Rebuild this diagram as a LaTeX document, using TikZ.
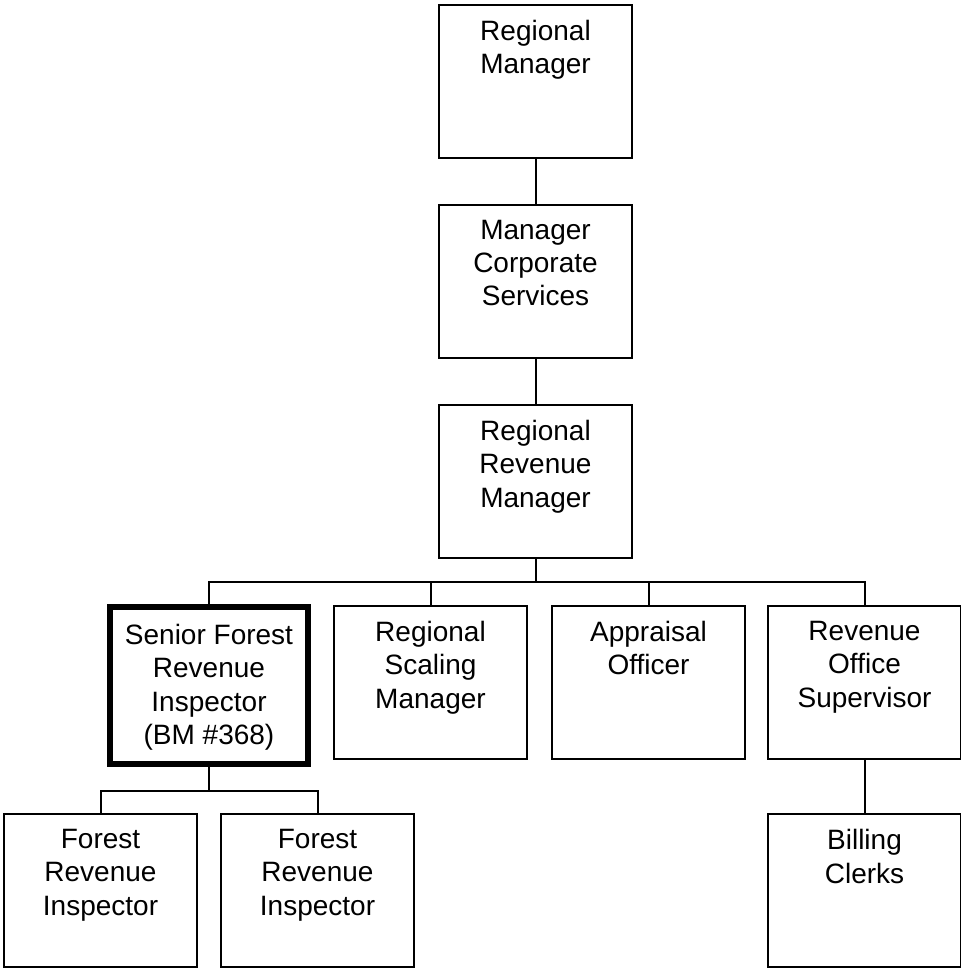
\documentclass[tikz,border=0pt]{standalone}
\usepackage{fontspec}
\setmainfont{Liberation Sans}
\usetikzlibrary{positioning, calc}

\begin{document}
\begin{tikzpicture}[x=0.5pt, y=-0.5pt,
            box/.style={rectangle, draw=black, line width=1pt, minimum width=96.5pt, minimum height=76.5pt, inner sep=0pt},
            keybox/.style={box, line width=3pt, minimum width=99pt, minimum height=78.5pt},
            txt/.style={anchor=north, align=center, inner sep=0pt, font=\fontsize{14}{16.65}\selectfont},
            link/.style={draw=black, line width=1pt}]
            \useasboundingbox (0,0) rectangle (961,969);
            % top chain
            \node[box] (rm)  at (535.5,81)    {};
            \node[box] (mcs) at (535.5,281)   {};
            \node[box] (rrm) at (535.5,481.5) {};
            % second row
            \node[keybox] (sfri) at (209,685.5)   {};
            \node[box]    (rsm)  at (430.5,682.5) {};
            \node[box]    (ao)   at (648.5,682.5) {};
            \node[box]    (ros)  at (864.5,682.5) {};
            % bottom row
            \node[box] (fri1) at (100.5,890.5) {};
            \node[box] (fri2) at (317.5,890.5) {};
            \node[box] (bc)   at (864.5,890.5) {};
            % titles
            \node[txt] (rmT)   at ([yshift=-8pt]rm.north)     {Regional\\Manager};
            \node[txt] (mcsT)  at ([yshift=-8pt]mcs.north)    {Manager\\Corporate\\Services};
            \node[txt] (rrmT)  at ([yshift=-8pt]rrm.north)    {Regional\\Revenue\\Manager};
            \node[txt] (sfriT) at ([yshift=-10pt]sfri.north)  {Senior Forest\\Revenue\\Inspector\\(BM \#368)};
            \node[txt] (rsmT)  at ([yshift=-8pt]rsm.north)    {Regional\\Scaling\\Manager};
            \node[txt] (aoT)   at ([yshift=-8pt]ao.north)     {Appraisal\\Officer};
            \node[txt] (rosT)  at ([yshift=-8pt]ros.north)    {Revenue\\Office\\Supervisor};
            \node[txt] (fri1T) at ([yshift=-8pt]fri1.north)   {Forest\\Revenue\\Inspector};
            \node[txt] (fri2T) at ([yshift=-8pt]fri2.north)   {Forest\\Revenue\\Inspector};
            \node[txt] (bcT)   at ([yshift=-8pt]bc.north)     {Billing\\Clerks};
            % connectors
            \draw[link] (rm) -- (mcs);
            \draw[link] (mcs) -- (rrm);
            \draw[link] (rrm.south) -- ++(0,23) coordinate (bus);
            \draw[link] (sfri.north) |- (bus) -| (ros.north);
            \draw[link] (rsm.north) -- (rsm.north |- bus);
            \draw[link] (ao.north) -- (ao.north |- bus);
            \draw[link] (sfri.south) -- ++(0,24) coordinate (bus2);
            \draw[link] (fri1.north) |- (bus2) -| (fri2.north);
            \draw[link] (ros) -- (bc);
        \end{tikzpicture}
\end{document}
